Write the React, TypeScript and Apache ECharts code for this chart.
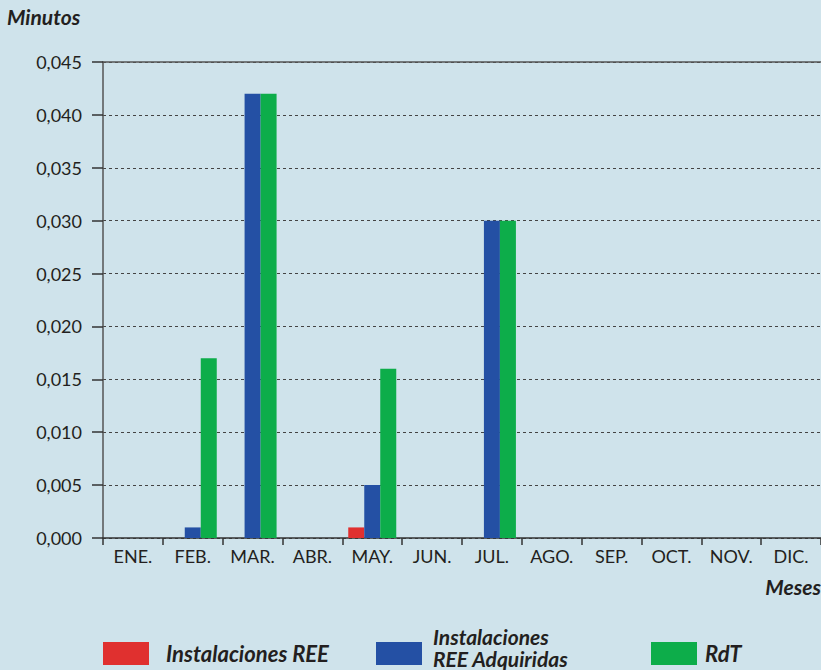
import React, { useEffect, useRef } from "react";
import * as echarts from "echarts";

const months = ["ENE.", "FEB.", "MAR.", "ABR.", "MAY.", "JUN.", "JUL.", "AGO.", "SEP.", "OCT.", "NOV.", "DIC."];
const instalacionesREE = [0, 0, 0, 0, 0.001, 0, 0, 0, 0, 0, 0, 0];
const reeAdquiridas = [0, 0.001, 0.042, 0, 0.005, 0, 0.03, 0, 0, 0, 0, 0];
const rdt = [0, 0.017, 0.042, 0, 0.016, 0, 0.03, 0, 0, 0, 0, 0];
const seriesNames = ["Instalaciones REE", "Instalaciones REE Adquiridas", "RdT"];
const blueLegendLines = ["Instalaciones", "REE Adquiridas"];
const colors = ["#e0302f", "#2450a4", "#0dad4a"];

const FONT = "Lato, 'DejaVu Sans', sans-serif";

export default function App() {
  const ref = useRef<HTMLDivElement>(null);
  useEffect(() => {
    if (!ref.current) return;
    const chart = echarts.init(ref.current, undefined, { renderer: "svg" });
    const legendText = {
      fontFamily: FONT,
      fontSize: 22,
      fontWeight: "bold" as const,
      fontStyle: "italic" as const,
      color: "#231f20",
      lineHeight: 22,
    };
    chart.setOption({
      animation: false,
      backgroundColor: "#cfe3eb",
      grid: { left: 103, top: 62, width: 720, height: 476, containLabel: false },
      xAxis: [
        {
          type: "category",
          data: months,
          boundaryGap: true,
          axisLine: { show: true, lineStyle: { color: "#333", width: 1.5 } },
          axisTick: { show: true, length: 7, alignWithLabel: false, lineStyle: { color: "#333", width: 1.5 } },
          axisLabel: { fontFamily: FONT, fontSize: 18, color: "#231f20", margin: 9 },
          splitLine: { show: false },
        },
        {
          type: "category",
          data: months,
          position: "top",
          axisLine: { show: true, lineStyle: { color: "#555", width: 1.5 } },
          axisTick: { show: false },
          axisLabel: { show: false },
        },
      ],
      yAxis: {
        type: "value",
        min: 0,
        max: 0.045,
        interval: 0.005,
        axisLine: { show: true, lineStyle: { color: "#555", width: 1.5 } },
        axisTick: { show: true, length: 11, lineStyle: { color: "#333", width: 1.5 } },
        axisLabel: {
          fontFamily: FONT,
          fontSize: 18,
          color: "#231f20",
          margin: 21,
          formatter: (v: number) => v.toFixed(3).replace(".", ","),
        },
        splitLine: { show: true, lineStyle: { color: "#444", width: 1, type: [3, 3] } },
      },
      legend: [
        {
          data: [seriesNames[0]],
          icon: "rect",
          left: 103,
          top: 642,
          padding: 0,
          itemWidth: 46,
          itemHeight: 23,
          textStyle: { ...legendText, padding: [0, 0, 0, 12] },
        },
        {
          data: [seriesNames[1]],
          icon: "rect",
          left: 376,
          top: 642,
          padding: 0,
          itemWidth: 46,
          itemHeight: 23,
          formatter: () => "",
          textStyle: { ...legendText, padding: 0 },
        },
        {
          data: [seriesNames[2]],
          icon: "rect",
          left: 651,
          top: 642,
          padding: 0,
          itemWidth: 46,
          itemHeight: 23,
          textStyle: { ...legendText, padding: [0, 0, 0, 3] },
        },
      ],
      graphic: [
        {
          type: "text",
          left: 7,
          top: 6,
          style: { text: "Minutos", font: `italic bold 21px ${FONT}`, fill: "#231f20" },
        },
        {
          type: "text",
          right: 0,
          top: 576,
          style: { text: "Meses", font: `italic bold 21px ${FONT}`, fill: "#231f20" },
        },
        {
          type: "text",
          left: 433,
          top: 626,
          style: { text: blueLegendLines[0], font: `italic bold 21px ${FONT}`, fill: "#231f20" },
        },
        {
          type: "text",
          left: 433,
          top: 648,
          style: { text: blueLegendLines[1], font: `italic bold 21px ${FONT}`, fill: "#231f20" },
        },
      ],
      series: [
        { name: seriesNames[0], type: "bar", data: instalacionesREE, barWidth: 16, barGap: "0%", itemStyle: { color: colors[0] } },
        { name: seriesNames[1], type: "bar", data: reeAdquiridas, barWidth: 16, barGap: "0%", itemStyle: { color: colors[1] } },
        { name: seriesNames[2], type: "bar", data: rdt, barWidth: 16, barGap: "0%", itemStyle: { color: colors[2] } },
      ],
    });
    return () => chart.dispose();
  }, []);
  return (
    <div style={{ position: "fixed", left: 0, top: 0, width: 821, height: 670, overflow: "hidden" }}>
      <div ref={ref} style={{ width: 821, height: 670 }} />
    </div>
  );
}
